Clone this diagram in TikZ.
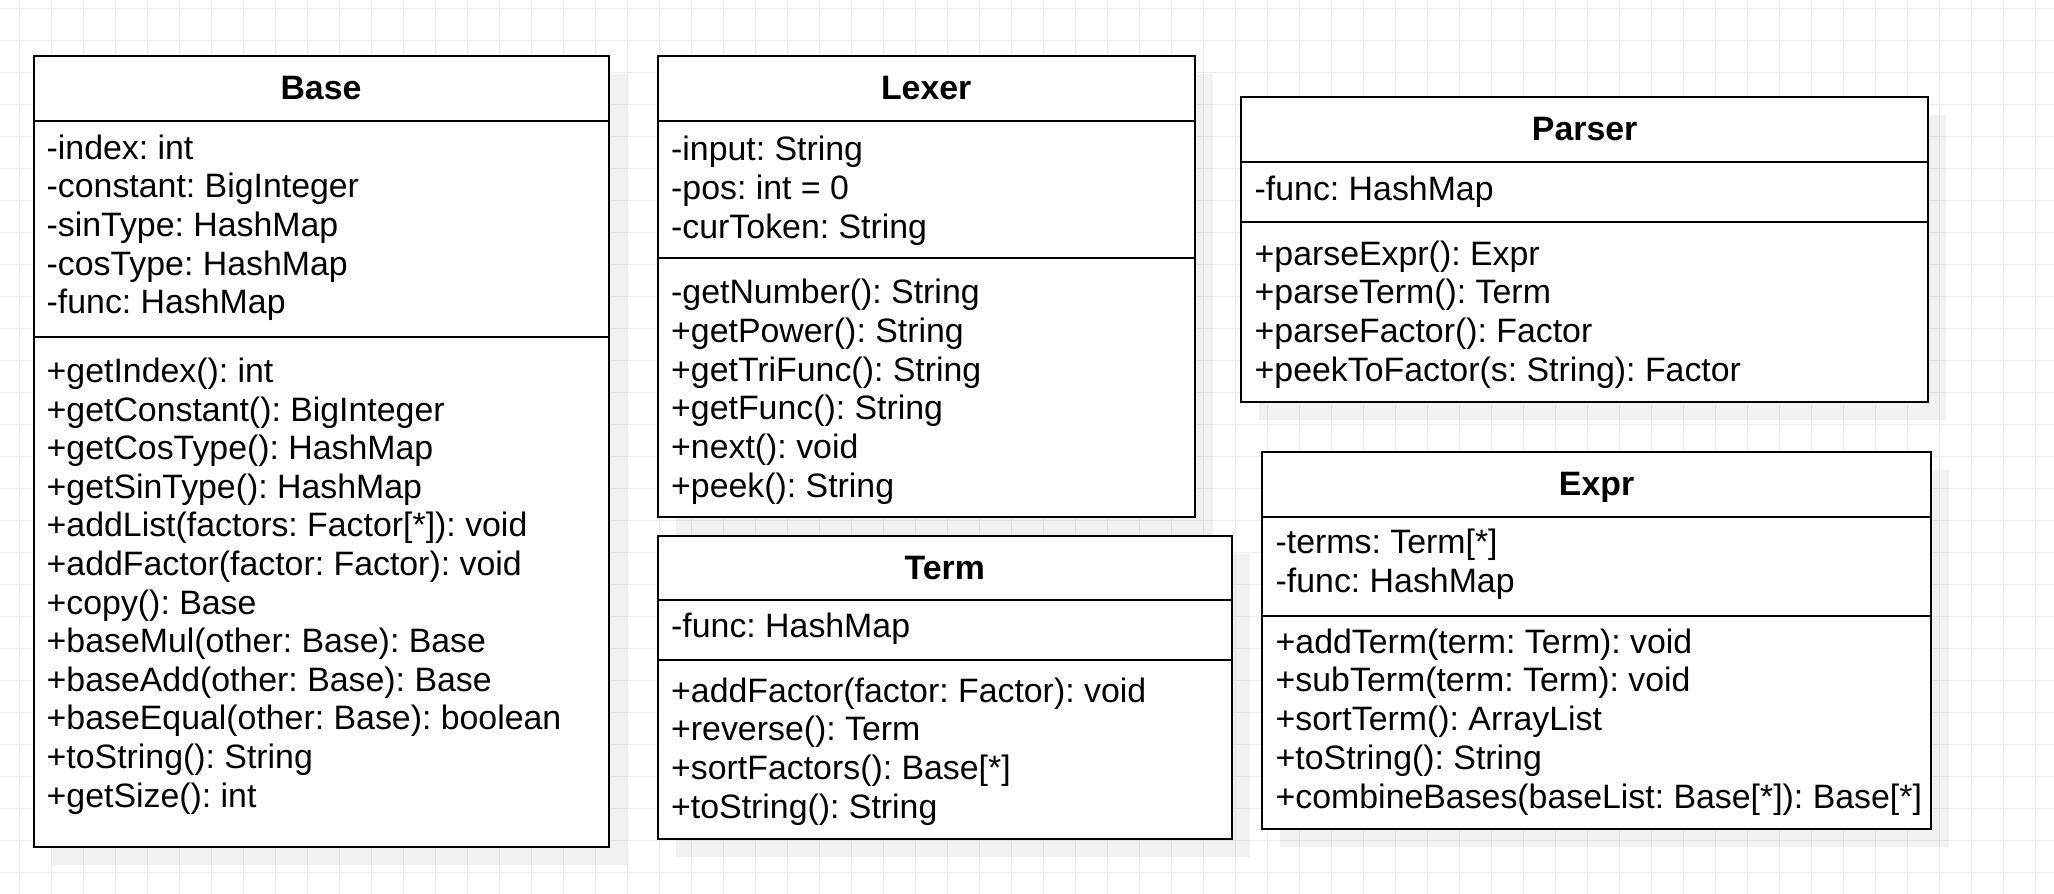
\documentclass[tikz,border=0pt]{standalone}
\usepackage{fontspec}
\setmainfont{Liberation Sans}
\usetikzlibrary{shadows}
\definecolor{gridc}{RGB}{236,236,236}
\tikzset{
  gridline/.style={draw=gridc, line width=1pt},
  classbox/.style={draw=black, fill=white, line width=2pt, inner sep=0pt, outer sep=0pt, anchor=north west,
    drop shadow={shadow xshift=18pt, shadow yshift=-18pt, fill=black, opacity=0.055}},
  sepline/.style={draw=black, line width=2pt},
  member/.style={font=\fontsize{33.85}{38.9}\selectfont\frenchspacing, inner sep=0pt, anchor=base west, text=black},
  title/.style={font=\fontsize{33.85}{38.9}\selectfont\bfseries, inner sep=0pt, anchor=base, text=black}
}
\frenchspacing
\begin{document}
\begin{tikzpicture}[x=1pt,y=-1pt]
\useasboundingbox (0,0) rectangle (2054,894);
\fill[white] (0,0) rectangle (2054,894);
\foreach \k in {0,...,63} \draw[gridline] ({19+32*\k},0) -- ({19+32*\k},894);
\foreach \k in {0,...,27} \draw[gridline] (0,{8.5+32*\k}) -- (2054,{8.5+32*\k});

% ---------- Base ----------
\node[classbox, minimum width=575pt, minimum height=790.7pt] (base) at (33.5,56) {};
\draw[sepline] (base.west |- 0,120.5) -- (base.east |- 0,120.5);
\draw[sepline] (base.west |- 0,336.6) -- (base.east |- 0,336.6);
\node[title] (base-t) at (321,99) {Base};
\foreach \txt [count=\i from 0] in {-index: int, -constant: BigInteger, -sinType: HashMap, -cosType: HashMap, -func: HashMap}
  \node[member] (base-a\i) at (46.5,{159.3+38.6*\i}) {\txt};
\foreach \txt [count=\i from 0] in {+getIndex(): int, +getConstant(): BigInteger, +getCosType(): HashMap, +getSinType(): HashMap, +addList(factors: Factor[*]): void, +addFactor(factor: Factor): void, +copy(): Base, +baseMul(other: Base): Base, +baseAdd(other: Base): Base, +baseEqual(other: Base): boolean, +toString(): String, +getSize(): int}
  \node[member] (base-m\i) at (46.5,{382.5+38.6*\i}) {\txt};

% ---------- Lexer ----------
\node[classbox, minimum width=536.7pt, minimum height=461.5pt] (lexer) at (657.8,55.5) {};
\draw[sepline] (lexer.west |- 0,120.9) -- (lexer.east |- 0,120.9);
\draw[sepline] (lexer.west |- 0,258.3) -- (lexer.east |- 0,258.3);
\node[title] (lexer-t) at (926.2,99) {Lexer};
\foreach \txt [count=\i from 0] in {-input: String, -pos: int = 0, -curToken: String}
  \node[member] (lexer-a\i) at (671,{160.8+38.9*\i}) {\txt};
\foreach \txt [count=\i from 0] in {-getNumber(): String, +getPower(): String, +getTriFunc(): String, +getFunc(): String, +next(): void, +peek(): String}
  \node[member] (lexer-m\i) at (671,{303.2+38.9*\i}) {\txt};

% ---------- Term ----------
\node[classbox, minimum width=573.9pt, minimum height=303.2pt] (term) at (657.8,536) {};
\draw[sepline] (term.west |- 0,600.3) -- (term.east |- 0,600.3);
\draw[sepline] (term.west |- 0,660.2) -- (term.east |- 0,660.2);
\node[title] (term-t) at (944.75,579) {Term};
\node[member] (term-a0) at (671,637.4) {-func: HashMap};
\foreach \txt [count=\i from 0] in {+addFactor(factor: Factor): void, +reverse(): Term, +sortFactors(): Base[*], +toString(): String}
  \node[member] (term-m\i) at (671,{702+38.9*\i}) {\txt};

% ---------- Parser ----------
\node[classbox, minimum width=686.7pt, minimum height=304.4pt] (parser) at (1241.3,97.3) {};
\draw[sepline] (parser.west |- 0,162.3) -- (parser.east |- 0,162.3);
\draw[sepline] (parser.west |- 0,221.7) -- (parser.east |- 0,221.7);
\node[title] (parser-t) at (1584.65,140.5) {Parser};
\node[member] (parser-a0) at (1254.5,200) {-func: HashMap};
\foreach \txt [count=\i from 0] in {+parseExpr(): Expr, +parseTerm(): Term, +parseFactor(): Factor, +peekToFactor(s: String): Factor}
  \node[member] (parser-m\i) at (1254.5,{265+38.9*\i}) {\txt};

% ---------- Expr ----------
\node[classbox, minimum width=669.2pt, minimum height=377pt] (expr) at (1262,452) {};
\draw[sepline] (expr.west |- 0,517) -- (expr.east |- 0,517);
\draw[sepline] (expr.west |- 0,615.7) -- (expr.east |- 0,615.7);
\node[title] (expr-t) at (1596.6,495.5) {Expr};
\foreach \txt [count=\i from 0] in {-terms: Term[*], -func: HashMap}
  \node[member] (expr-a\i) at (1275.5,{553.5+38.9*\i}) {\txt};
\foreach \txt [count=\i from 0] in {+addTerm(term: Term): void, +subTerm(term: Term): void, +sortTerm(): ArrayList, +toString(): String, +combineBases(baseList: Base[*]): Base[*]}
  \node[member] (expr-m\i) at (1275.5,{653+38.9*\i}) {\txt};
\end{tikzpicture}
\end{document}
